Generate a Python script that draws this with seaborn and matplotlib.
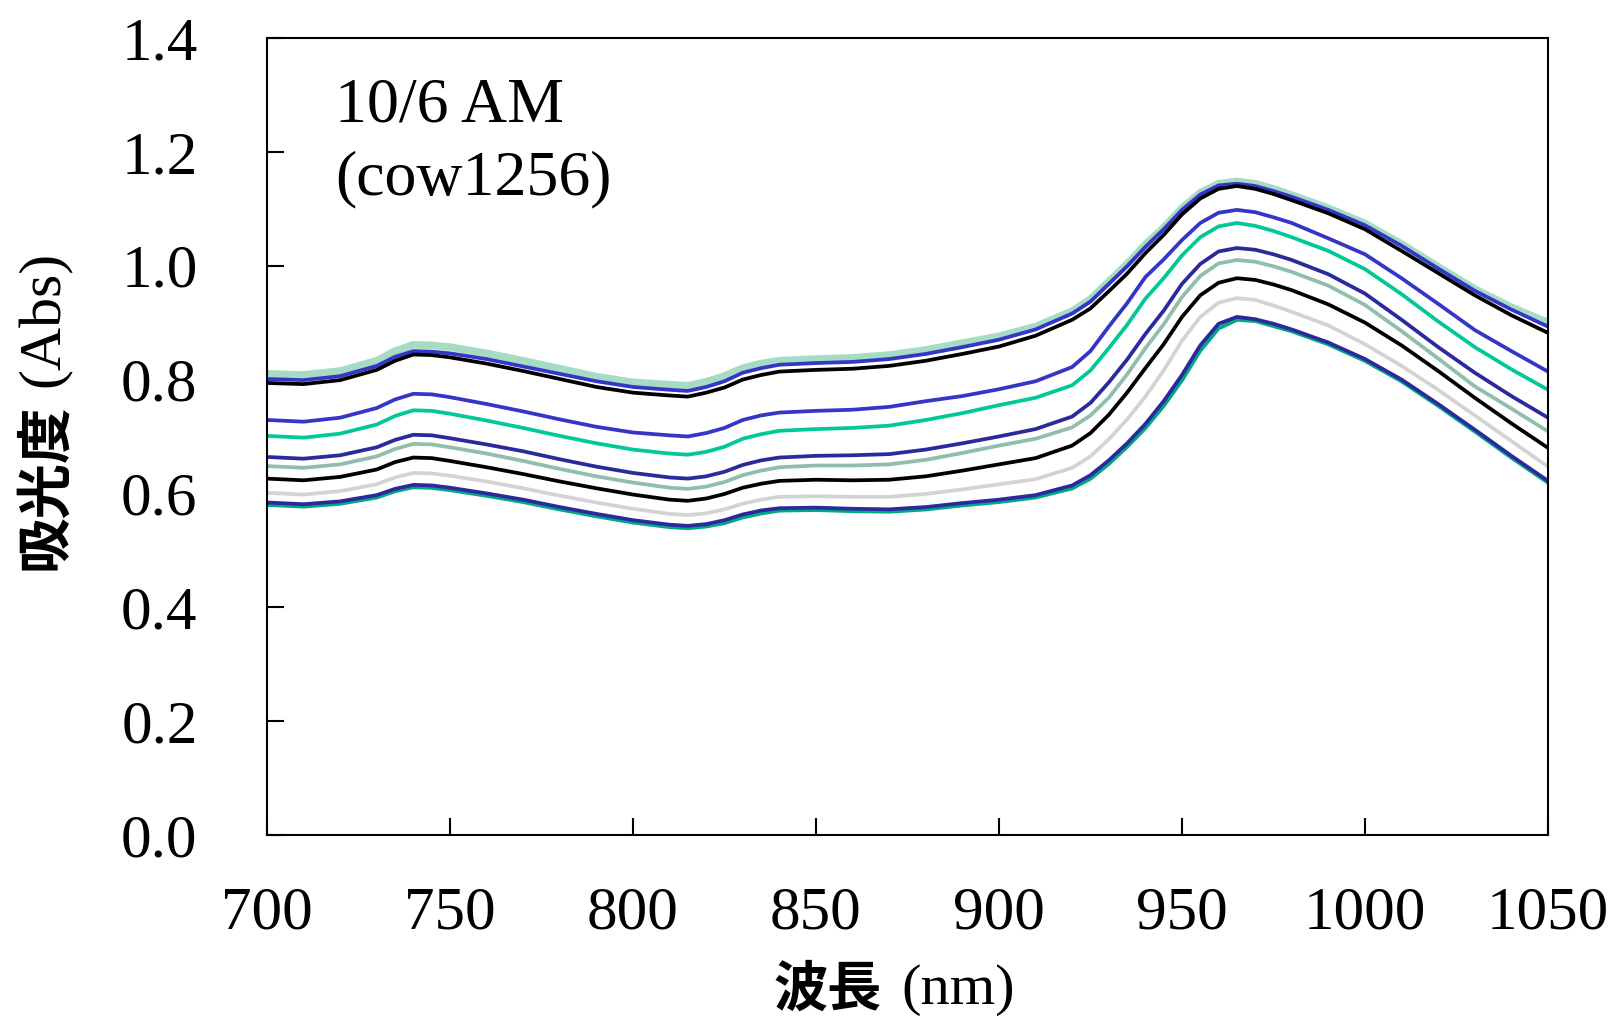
import numpy as np
import pandas as pd
import matplotlib
matplotlib.use("Agg")
import matplotlib.pyplot as plt
import seaborn as sns

# wavelength grid (nm)
wavelength = [700, 710, 720, 730, 735, 740, 745, 750, 760, 770, 780, 790, 800, 810, 815,
              820, 825, 830, 835, 840, 850, 860, 870, 880, 890, 900, 910, 920, 925, 930,
              935, 940, 945, 950, 955, 960, 965, 970, 975, 980, 990, 1000, 1010, 1020,
              1030, 1040, 1050]

# absorbance spectra (top to bottom)
mint = [.810, .808, .815, .833, .850, .861, .860, .857, .846, .833, .819, .805, .795, .791, .789,
        .796, .806, .820, .828, .833, .836, .838, .843, .852, .864, .876, .893, .920, .941, .972,
        1.003, 1.037, 1.067, 1.101, 1.128, 1.144, 1.148, 1.144, 1.135, 1.124, 1.101, 1.074, 1.038, .998,
        .959, .927, .900]
blue_a = [.801, .799, .806, .824, .840, .850, .849, .846, .836, .823, .810, .797, .787, .782, .780,
          .787, .797, .812, .820, .826, .829, .831, .836, .845, .857, .870, .888, .916, .937, .968,
          .999, 1.033, 1.064, 1.098, 1.125, 1.141, 1.144, 1.140, 1.131, 1.121, 1.098, 1.071, 1.035, .995,
          .956, .923, .893]
black_a = [.794, .792, .799, .817, .833, .844, .843, .839, .828, .815, .801, .787, .777, .772, .770,
           .777, .786, .800, .808, .814, .817, .819, .824, .833, .845, .858, .877, .905, .925, .955,
           .986, 1.022, 1.054, 1.090, 1.118, 1.135, 1.140, 1.135, 1.126, 1.115, 1.092, 1.064, 1.026, .987,
           .948, .913, .882]
blue_b = [.729, .726, .733, .750, .765, .775, .774, .769, .757, .744, .730, .717, .707, .702, .700,
          .706, .715, .729, .737, .742, .745, .747, .752, .762, .771, .783, .797, .822, .850, .893,
          .934, .980, 1.011, 1.045, 1.075, 1.093, 1.098, 1.094, 1.085, 1.075, 1.048, 1.020, .978, .933,
          .887, .850, .814]
green_a = [.701, .698, .705, .721, .736, .746, .745, .740, .728, .715, .701, .688, .677, .670, .668,
           .673, .682, .696, .704, .710, .713, .715, .719, .729, .741, .755, .768, .790, .816, .855,
           .896, .942, .978, 1.018, 1.050, 1.069, 1.075, 1.070, 1.061, 1.050, 1.026, .994, .950, .902,
           .857, .818, .782]
navy_a = [.664, .661, .667, .681, .694, .703, .702, .697, .686, .674, .660, .647, .636, .628, .626,
          .630, .638, .650, .658, .663, .666, .667, .669, .677, .688, .700, .713, .735, .759, .795,
          .835, .880, .921, .968, 1.003, 1.025, 1.031, 1.028, 1.020, 1.010, .985, .951, .905, .857,
          .812, .771, .733]
sage = [.648, .645, .651, .665, .678, .687, .686, .681, .670, .657, .643, .630, .619, .610, .608,
        .612, .620, .632, .640, .646, .649, .649, .651, .659, .671, .684, .696, .716, .737, .768,
        .809, .855, .897, .945, .982, 1.004, 1.010, 1.007, .999, .989, .965, .931, .885, .837,
        .788, .749, .709]
black_b = [.626, .623, .629, .642, .655, .663, .662, .657, .646, .634, .621, .609, .598, .589, .587,
           .591, .599, .610, .617, .622, .624, .623, .624, .630, .640, .651, .662, .684, .706, .738,
           .777, .820, .862, .910, .948, .970, .978, .975, .967, .957, .932, .900, .860, .815,
           .768, .723, .680]
gray = [.601, .598, .604, .616, .628, .636, .635, .631, .621, .609, .596, .584, .573, .564, .562,
        .565, .572, .582, .589, .594, .595, .594, .594, .599, .607, .616, .625, .645, .665, .695,
        .730, .770, .816, .868, .910, .935, .943, .940, .930, .919, .895, .862, .824, .782,
        .737, .692, .647]
green_b = [.580, .577, .582, .593, .604, .611, .610, .606, .596, .585, .572, .560, .549, .541, .539,
           .542, .548, .558, .565, .570, .571, .569, .568, .572, .579, .585, .593, .609, .626, .652,
           .682, .715, .754, .799, .851, .890, .905, .903, .894, .885, .862, .833, .797, .754,
           .709, .663, .619]
navy_b = [.584, .581, .586, .597, .608, .615, .614, .610, .600, .589, .576, .564, .553, .545, .543,
          .546, .553, .563, .570, .574, .575, .573, .572, .576, .583, .589, .597, .614, .632, .658,
          .688, .722, .762, .808, .860, .898, .910, .906, .898, .888, .865, .836, .800, .757,
          .712, .666, .622]

spectra = [
    (mint, "#a6dcc4", 5.5),
    (blue_a, "#3535c8", 2.7),
    (black_a, "#000000", 2.7),
    (blue_b, "#3535c8", 2.7),
    (green_a, "#00c896", 2.7),
    (navy_a, "#2a2a9c", 2.7),
    (sage, "#8fbfaa", 2.7),
    (black_b, "#000000", 2.7),
    (gray, "#d3d3d3", 2.7),
    (green_b, "#00a884", 2.9),
    (navy_b, "#2a2a9c", 2.7),
]

sns.set_theme(style="white")
plt.rcParams['font.family'] = ['Liberation Serif', 'DejaVu Serif']
plt.rcParams['text.color'] = 'black'
plt.rcParams['xtick.color'] = 'black'
plt.rcParams['ytick.color'] = 'black'

fig = plt.figure(figsize=(16.15, 10.21), dpi=100)
ax = fig.add_axes([0.1653, 0.1822, 0.7932, 0.7806])

for vals, col, lw in spectra:
    df = pd.DataFrame({"wl": wavelength, "abs": vals})
    sns.lineplot(data=df, x="wl", y="abs", color=col, lw=lw, ax=ax)

ax.set_xlim(700, 1050)
ax.set_ylim(0, 1.4)
ax.set_xticks(np.arange(700, 1051, 50))
ax.set_yticks(np.arange(0, 1.41, 0.2))
ax.set_yticklabels([f"{v:.1f}" for v in np.arange(0, 1.41, 0.2)])
ax.tick_params(bottom=True, left=True, direction="in", length=12, width=1.5,
               labelsize=44, color="black", labelcolor="black")
ax.tick_params(axis="x", pad=37)
ax.tick_params(axis="y", pad=50)
ax.set_xlabel("")
ax.set_ylabel("")
for s in ax.spines.values():
    s.set_color("black")
    s.set_linewidth(1.5)

ax.text(0.053, 0.950, "10/6 AM\n(cow1256)", transform=ax.transAxes, fontsize=46,
        va="top", ha="left", linespacing=1.34, color="black")

# axis labels: bold Japanese + serif units
cjk = ['Noto Sans CJK JP', 'DejaVu Sans']
fig.text(828 / 1615, 1 - 990 / 1021, "波長", family=cjk, fontweight="bold",
         fontsize=39, ha="center", va="center", color="black")
fig.text(958 / 1615, 1 - 990 / 1021, "(nm)", fontsize=42, ha="center", va="center",
         color="black")
fig.text(45 / 1615, 1 - 487 / 1021, "吸光度", family=cjk, fontweight="bold",
         fontsize=40, ha="center", va="center", rotation=90, color="black")
fig.text(45 / 1615, 1 - 319 / 1021, "(Abs)", fontsize=43, ha="center", va="center",
         rotation=90, color="black")

fig.savefig("out.png", dpi=100)
